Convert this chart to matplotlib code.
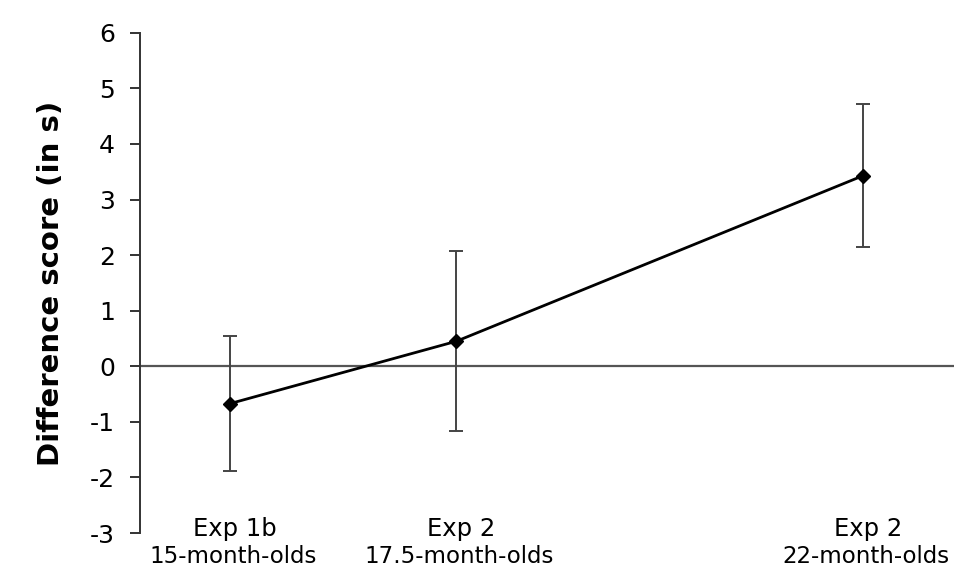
import matplotlib.pyplot as plt

plt.rcParams["axes.unicode_minus"] = False

# age in months sets the x position of each group
age = [15, 17.5, 22]
means = [-0.67, 0.45, 3.43]
errs = [1.21, 1.62, 1.29]
exp_labels = ["Exp 1b", "Exp 2", "Exp 2"]
age_labels = ["15-month-olds", "17.5-month-olds", "22-month-olds"]

fig = plt.figure(figsize=(9.78, 5.86), dpi=100)
ax = fig.add_axes([0.143, 0.0904, 0.832, 0.8536])

ax.axhline(0, color="#555555", lw=1.6, zorder=1)
ax.errorbar(age, means, yerr=errs, fmt="none", ecolor="#444444",
            elinewidth=1.4, capsize=5, capthick=1.4, zorder=2)
ax.plot(age, means, color="black", lw=2, marker="D", ms=7, zorder=3)

ax.set_xlim(14, 23)
ax.set_ylim(-3, 6)
ax.set_yticks(range(-3, 7))
ax.set_xticks([])
for s in ["top", "right", "bottom"]:
    ax.spines[s].set_visible(False)
ax.spines["left"].set_color("#333333")
ax.spines["left"].set_linewidth(1.4)
ax.tick_params(axis="y", direction="out", length=7, width=1.4,
               color="#333333", labelsize=18, pad=11)

for x, e, a in zip(age, exp_labels, age_labels):
    ax.text(x + 0.05, -2.93, e, ha="center", va="center", fontsize=17.5,
            clip_on=False)
    ax.text(x + 0.03, -3.43, a, ha="center", va="center", fontsize=16.5,
            clip_on=False)

ax.set_ylabel("Difference score (in s)", fontsize=21, fontweight="bold",
              labelpad=18)

fig.savefig("out.png", dpi=100)
plt.close()
